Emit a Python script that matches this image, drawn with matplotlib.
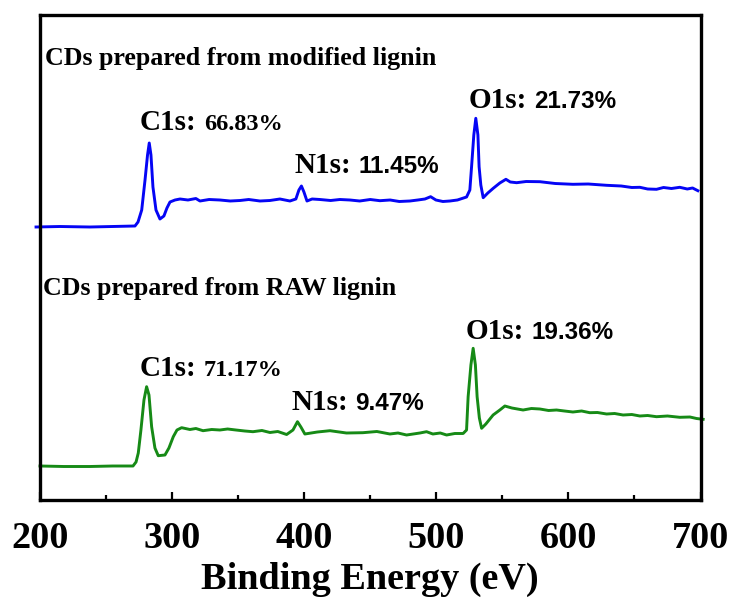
import matplotlib
matplotlib.use("Agg")
import matplotlib.pyplot as plt

# ---- data (binding energy eV, intensity a.u.) ----
modified_energy = [197.0, 215.0, 237.8, 255.0, 271.9, 274.2, 277.0, 279.5, 281.4, 282.7,
                   284.0, 285.5, 287.8, 290.8, 293.8, 296.1, 298.4, 302.2, 306.0, 312.0,
                   318.0, 321.1, 328.0, 336.2, 344.0, 351.4, 358.0, 366.5, 374.0, 381.6,
                   389.2, 393.7, 396.0, 397.9, 399.8, 402.1, 406.0, 411.9, 420.0, 427.0,
                   434.6, 442.0, 450.0, 457.3, 465.0, 472.0, 480.0, 486.0, 491.4, 495.7,
                   499.7, 505.0, 510.3, 516.0, 522.9, 525.4, 526.7, 528.4, 529.9, 531.5,
                   532.4, 533.7, 535.5, 539.0, 543.1, 548.1, 552.7, 556.0, 560.8, 568.0,
                   578.4, 590.0, 603.4, 615.0, 628.9, 640.0, 648.0, 654.1, 660.0, 666.7,
                   672.0, 678.0, 684.3, 690.0, 694.0, 698.0]
modified_intensity = [273, 273.5, 273, 273.5, 274, 278, 290, 320, 345, 357,
                      345, 313, 290, 281, 284, 292, 298, 300, 301, 300,
                      301.5, 299, 300.5, 300, 299, 299.5, 300.5, 299, 299.5, 301,
                      299, 301, 310, 314, 308, 299, 301, 300.5, 299.5, 300.5,
                      300, 299, 300.5, 299.3, 300, 298.5, 299, 300, 301, 303.3,
                      300, 298.5, 299, 300, 303, 310, 333.3, 365, 381.7, 365,
                      333.3, 315, 302.3, 307, 311.7, 317, 320.7, 318, 317.3, 318.5,
                      318.3, 316.5, 315.7, 316, 314.7, 314, 312.5, 312.7, 311, 310.7,
                      312.5, 311.5, 312.7, 311, 312, 309.3]

raw_energy = [200.0, 218.0, 237.8, 255.0, 270.4, 272.7, 274.4, 276.4, 278.7, 280.7,
              282.5, 284.5, 287.0, 289.5, 294.6, 297.6, 300.9, 303.7, 307.2, 313.5,
              318.0, 323.4, 330.0, 336.2, 342.0, 348.3, 355.0, 361.2, 368.0, 374.1,
              380.0, 386.7, 391.5, 394.9, 397.5, 400.5, 410.0, 419.5, 432.0, 444.4,
              455.0, 464.9, 471.0, 477.5, 487.6, 492.6, 497.4, 503.0, 507.8, 514.0,
              520.3, 522.9, 524.1, 526.2, 527.9, 529.6, 530.9, 532.6, 534.3, 537.5,
              543.0, 548.1, 551.9, 557.2, 565.7, 572.0, 578.4, 585.0, 591.0, 597.0,
              603.4, 610.0, 616.2, 622.0, 628.9, 635.0, 641.4, 648.0, 654.1, 660.0,
              666.7, 675.0, 684.3, 692.0, 697.0, 702.0]
raw_intensity = [34, 33.5, 33.5, 34, 34, 38, 47, 70, 100, 113.3,
                 105, 73.3, 52, 44.3, 45, 52, 63.3, 70, 72.3, 70.5,
                 71.5, 69.3, 70.5, 70, 71, 70, 69, 68.3, 69.5, 67.5,
                 68.5, 65.5, 70, 78.3, 73, 66, 68, 69.3, 67, 67.3,
                 68.5, 66, 67, 65, 67, 68.3, 66, 67, 65, 66.5,
                 66.5, 70, 103.3, 135, 151.7, 135, 103.3, 82, 71.7, 76,
                 85, 90, 94, 92, 90, 91.5, 91, 89.5, 90, 89,
                 88, 89, 87.3, 87.5, 86, 86.5, 85, 85.5, 84, 84.5,
                 83.3, 84, 82.7, 83, 81.5, 80.7]

series_titles = ["CDs prepared from modified lignin", "CDs prepared from RAW lignin"]
modified_peaks = ["C1s:", "N1s:", "O1s:"]
modified_values = ["66.83%", "11.45%", "21.73%"]
raw_peaks = ["C1s:", "N1s:", "O1s:"]
raw_values = ["71.17%", "9.47%", "19.36%"]
x_ticks = [200, 300, 400, 500, 600, 700]

SERIF = "Liberation Serif"
SANS = "Liberation Sans"

fig = plt.figure(figsize=(7.34, 6.03), dpi=100)
ax = fig.add_axes([40 / 734, 1 - 500 / 603, (700.5 - 40) / 734, (500 - 15) / 603])

ax.plot(modified_energy, modified_intensity, color="#0505f5", lw=2.1, clip_on=False)
ax.plot(raw_energy, raw_intensity, color="#168a16", lw=2.1, clip_on=False)

ax.set_xlim(200, 700)
ax.set_ylim(0, 485)
ax.set_yticks([])
ax.set_xticks(x_ticks)
ax.set_xticks(range(250, 700, 100), minor=True)
ax.set_xticklabels([str(t) for t in x_ticks], fontfamily=SERIF, fontweight="bold", fontsize=27.5)
ax.tick_params(axis="x", which="major", direction="in", length=6, width=1.6, pad=15)
ax.tick_params(axis="x", which="minor", direction="in", length=3.5, width=1.6)
for s in ax.spines.values():
    s.set_linewidth(2.4)
ax.set_xlabel("Binding Energy (eV)", fontfamily=SERIF, fontweight="bold", fontsize=27.5, labelpad=4)

# series titles
ax.text(203.8, 435, series_titles[0], fontfamily=SERIF, fontweight="bold", fontsize=18.7,
        ha="left", va="baseline")
ax.text(202.6, 205, series_titles[1], fontfamily=SERIF, fontweight="bold", fontsize=18.7,
        ha="left", va="baseline")

def peak_label(x, y, name, value, value_family):
    t = ax.text(x, y, name, fontfamily=SERIF, fontweight="bold", fontsize=21,
                ha="left", va="baseline")
    ax.annotate(value, xy=(1, y), xycoords=(t, "data"), xytext=(5, 0),
                textcoords="offset points", fontfamily=value_family, fontweight="bold",
                fontsize=17.5, ha="left", va="baseline")

mod_pos = [(275.7, 370), (393.0, 327), (524.4, 392)]
raw_pos = [(275.7, 124), (390.7, 90), (522.4, 161)]
mod_fam = [SERIF, SANS, SANS]
raw_fam = [SERIF, SANS, SANS]
for (x, y), n, v, f in zip(mod_pos, modified_peaks, modified_values, mod_fam):
    peak_label(x, y, n, v, f)
for (x, y), n, v, f in zip(raw_pos, raw_peaks, raw_values, raw_fam):
    peak_label(x, y, n, v, f)

fig.savefig("out.png", dpi=100)
